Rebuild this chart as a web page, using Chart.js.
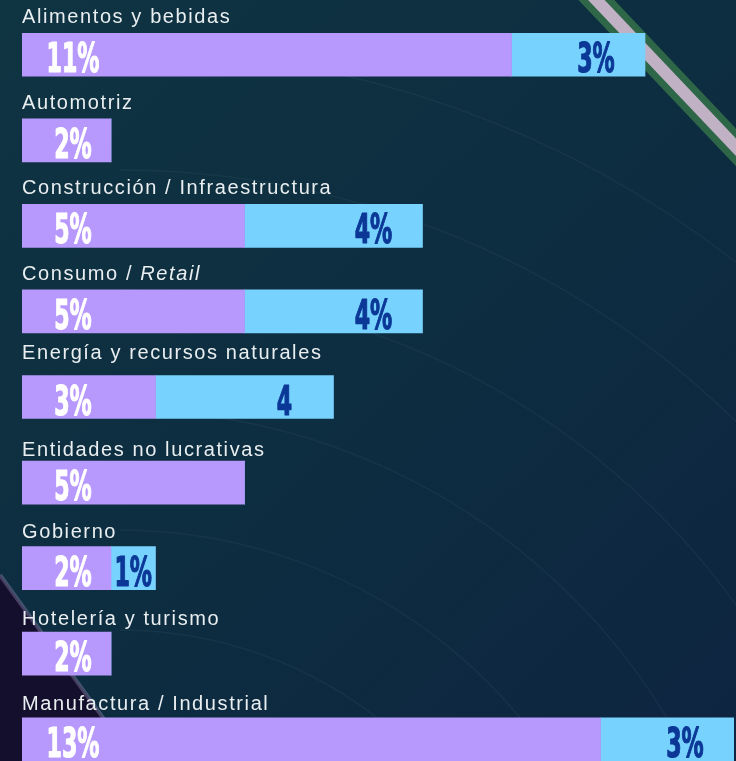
<!DOCTYPE html>
<html>
<head>
<meta charset="utf-8">
<script src="https://cdn.jsdelivr.net/npm/chart.js@4"></script>
<style>
  html, body { margin: 0; padding: 0; overflow: hidden; background: #0d2b3d; }
  canvas { display: block; }
</style>
</head>
<body>
<canvas id="sectorChart" width="736" height="783"></canvas>
<script>
const sectores = [
    'Alimentos y bebidas',
    'Automotriz',
    'Construcción / Infraestructura',
    'Consumo / Retail',
    'Energía y recursos naturales',
    'Entidades no lucrativas',
    'Gobierno',
    'Hotelería y turismo',
    'Manufactura / Industrial'
];
const valorPrincipal = [11, 2, 5, 5, 3, 5, 2, 2, 13];
const valorSecundario = [3, 0, 4, 4, 4, 0, 1, 0, 3];
const textoPrincipal = ['11%', '2%', '5%', '5%', '3%', '5%', '2%', '2%', '13%'];
const textoSecundario = ['3%', '', '4%', '4%', '4', '', '1%', '', '3%'];
const palabrasCursiva = ['Retail'];

// distancia entre la etiqueta y la barra (px)
const separacionEtiqueta = [10, 10, 10, 10, 17, 5, 9, 7, 8];

const fondo = {
    id: 'fondo',
    beforeDraw(chart) {
        const { ctx, width, height } = chart;
        ctx.save();
        let g = ctx.createLinearGradient(0, 0, width, height);
        g.addColorStop(0, '#0f3442');
        g.addColorStop(0.5, '#0d2d40');
        g.addColorStop(1, '#0e2440');
        ctx.fillStyle = g;
        ctx.fillRect(0, 0, width, height);

        // zona oscura abajo a la izquierda
        ctx.fillStyle = '#140f2c';
        ctx.beginPath();
        ctx.moveTo(0, 575);
        ctx.lineTo(150, 783);
        ctx.lineTo(0, 783);
        ctx.closePath();
        ctx.fill();
        ctx.strokeStyle = 'rgba(190,170,220,0.3)';
        ctx.lineWidth = 4;
        ctx.beginPath();
        ctx.moveTo(0, 575);
        ctx.lineTo(150, 783);
        ctx.stroke();

        // arcos tenues
        ctx.strokeStyle = 'rgba(200,220,230,0.05)';
        ctx.lineWidth = 1.5;
        [420, 520, 640, 760, 880, 1000].forEach(r => {
            ctx.beginPath();
            ctx.arc(120, 1050, r, -Math.PI * 0.5, -Math.PI * 0.05);
            ctx.stroke();
        });

        // estela diagonal
        ctx.strokeStyle = 'rgba(80,160,80,0.5)';
        ctx.lineWidth = 26;
        ctx.beginPath();
        ctx.moveTo(585, -12);
        ctx.lineTo(748, 160);
        ctx.stroke();
        ctx.strokeStyle = 'rgba(210,185,210,0.9)';
        ctx.lineWidth = 12;
        ctx.beginPath();
        ctx.moveTo(585, -12);
        ctx.lineTo(748, 160);
        ctx.stroke();
        ctx.restore();
    }
};

const etiquetas = {
    id: 'etiquetas',
    afterDatasetsDraw(chart) {
        const { ctx } = chart;
        const m0 = chart.getDatasetMeta(0).data;
        const m1 = chart.getDatasetMeta(1).data;
        ctx.save();
        m0.forEach((bar, i) => {
            const top = bar.y - bar.height / 2;

            // nombre del sector
            ctx.fillStyle = '#e9eef0';
            ctx.textBaseline = 'alphabetic';
            ctx.textAlign = 'left';
            ctx.letterSpacing = '1.6px';
            let x = chart.chartArea.left;
            const yTxt = top - separacionEtiqueta[i];
            sectores[i].split(/(\s+)/).forEach(parte => {
                const cursiva = palabrasCursiva.includes(parte);
                ctx.font = (cursiva ? 'italic ' : '') + '20px "Liberation Sans", Arial, sans-serif';
                ctx.fillText(parte, x, yTxt);
                x += ctx.measureText(parte).width;
            });
            ctx.letterSpacing = '0px';

            // valores
            const dibujaValor = (texto, cx, color) => {
                ctx.save();
                ctx.font = 'bold 41px "DejaVu Sans Condensed", "DejaVu Sans", sans-serif';
                ctx.fillStyle = color;
                ctx.strokeStyle = color;
                ctx.lineWidth = 1.2;
                ctx.lineJoin = 'round';
                ctx.textAlign = 'center';
                ctx.textBaseline = 'alphabetic';
                ctx.translate(cx, top + 39);
                ctx.scale(0.6, 1);
                ctx.strokeText(texto, 0, 0);
                ctx.fillText(texto, 0, 0);
                ctx.restore();
            };
            dibujaValor(textoPrincipal[i], bar.base + 51, '#ffffff');

            const b2 = m1[i];
            if (valorSecundario[i] > 0 && textoSecundario[i]) {
                const medio = (b2.base + b2.x) / 2;
                const cx = Math.max(medio, b2.x - 49);
                dibujaValor(textoSecundario[i], cx, '#0b3796');
            }
        });
        ctx.restore();
    }
};

new Chart(document.getElementById('sectorChart'), {
    type: 'bar',
    data: {
        labels: sectores,
        datasets: [{
            data: valorPrincipal,
            backgroundColor: '#b798fc',
            borderWidth: 0,
            barThickness: 43
        }, {
            data: valorSecundario,
            backgroundColor: '#78d2fe',
            borderWidth: 0,
            barThickness: 43
        }]
    },
    options: {
        indexAxis: 'y',
        responsive: false,
        animation: false,
        layout: {
            padding: { left: 22, right: 2, top: 12, bottom: 1 }
        },
        scales: {
            x: { stacked: true, min: 0, max: 16, display: false },
            y: { stacked: true, display: false }
        },
        plugins: {
            legend: { display: false },
            tooltip: { enabled: false }
        }
    },
    plugins: [fondo, etiquetas]
});
</script>
</body>
</html>
